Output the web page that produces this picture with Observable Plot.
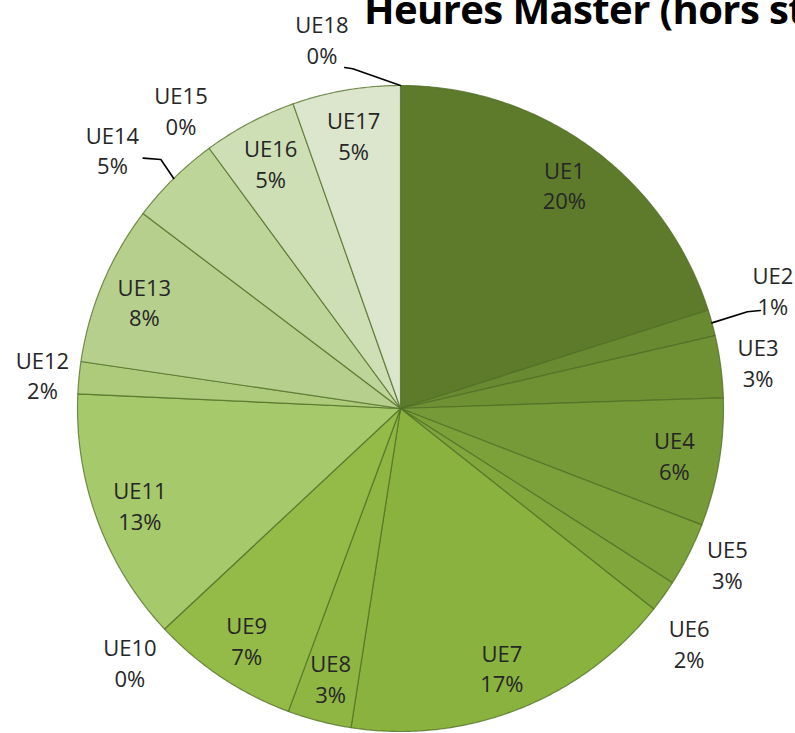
<!DOCTYPE html>
<html><head><meta charset="utf-8">
<script src="https://cdn.jsdelivr.net/npm/d3@7"></script>
<script src="https://cdn.jsdelivr.net/npm/@observablehq/plot@0.6"></script>
<style>
html,body{margin:0;padding:0;background:#fff;overflow:hidden;width:795px;height:733px}
#wrap{position:relative;width:795px;height:733px}
#title{position:absolute;left:364px;top:-19px;font:bold 40px 'Open Sans';white-space:nowrap;color:#000;letter-spacing:-0.6px;z-index:2}
#chart{position:absolute;left:0;top:0}
</style></head><body><div id="wrap"><div id="chart"></div><div id="title"></div></div>
<script>
// ---- data ----
const titleText = "Heures Master (hors stage)";
const categories = ["UE1","UE2","UE3","UE4","UE5","UE6","UE7","UE8","UE9","UE10","UE11","UE12","UE13","UE14","UE15","UE16","UE17","UE18"];
const shares = [20.1,1.3,3.1,6.4,3.2,1.6,16.8,3.2,7.4,0,12.7,1.6,8.0,4.6,0,4.7,5.4,0];
const sliceColors = ["#5d7b2b","#6a8a31","#6f9134","#769a38","#7ca13a","#80a63c","#8ab23f","#8fb643","#94ba48","#9abf52","#a6c96c","#adcb7a","#b6cf8c","#bdd598","#c4d9a5","#cedfb6","#dce6cd","#e6ecdd"];

// ---- layout ----
const outsideLabels = ["UE2","UE3","UE5","UE6","UE10","UE12","UE14","UE15","UE18"];
const labelNudge = {
  UE5: {da:-1.5, r:1.12},
  UE6: {da:3.5, r:1.15}
};
const leaderLayout = {
  UE2:  {da:-2.3, r:1.21, bendDa:-0.2, bendR:1.115, run:0.04},
  UE14: {da:-3.4, r:1.2,  bendDa:0.7,  bendR:1.07,  run:-0.055},
  UE18: {da:-12,  r:1.17, bendDa:-8,   bendR:1.062, run:-0.025}
};
const deg = Math.PI/180;
const P = (a, r) => [r*Math.sin(a), r*Math.cos(a)];

document.getElementById("title").textContent = titleText;

const arcs = d3.pie().sort(null).value(d => d)(shares);
const total = d3.sum(shares);

const slicePts = [];
arcs.forEach((a, i) => {
  const name = categories[i];
  const span = a.endAngle - a.startAngle;
  if (span <= 0) return;
  const n = Math.max(2, Math.ceil(span / (Math.PI/360)));
  slicePts.push({name, x:0, y:0});
  for (let k = 0; k <= n; k++) {
    const [x, y] = P(a.startAngle + span*k/n, 1);
    slicePts.push({name, x, y});
  }
  slicePts.push({name, x:0, y:0});
});

const labels = [];
const leaderPts = [];
arcs.forEach((a, i) => {
  const name = categories[i];
  const mid = (a.startAngle + a.endAngle)/2;
  const text = name + "\n" + Math.round(a.data/total*100) + "%";
  let pos;
  if (leaderLayout[name]) {
    const L = leaderLayout[name];
    pos = P(mid + L.da*deg, L.r);
    const A = P(mid, 1), B = P(mid + L.bendDa*deg, L.bendR);
    leaderPts.push({name, x:A[0], y:A[1]}, {name, x:B[0], y:B[1]}, {name, x:B[0]+L.run, y:B[1]+0.004});
  } else if (labelNudge[name]) {
    pos = P(mid + labelNudge[name].da*deg, labelNudge[name].r);
  } else if (outsideLabels.includes(name)) {
    const ext = Math.abs(Math.sin(mid))*0.08 + Math.abs(Math.cos(mid))*0.093;
    pos = P(mid, 1 + 0.025 + ext);
  } else {
    pos = P(mid, 0.86);
  }
  labels.push({text, x:pos[0], y:pos[1]});
});

const chart = Plot.plot({
  width: 795, height: 733,
  marginLeft: 77, marginRight: 72, marginTop: 85, marginBottom: 2,
  x: {domain:[-1,1], axis:null},
  y: {domain:[-1,1], axis:null},
  color: {domain: categories, range: sliceColors},
  style: {background:"transparent", overflow:"visible"},
  marks: [
    Plot.line(slicePts, {x:"x", y:"y", z:"name", fill:"name", stroke:"#4f6c24", strokeOpacity:0.75, strokeWidth:1.2, strokeLinejoin:"round", curve:"linear"}),
    Plot.line(leaderPts, {x:"x", y:"y", z:"name", stroke:"#000", strokeWidth:1.6, curve:"linear"}),
    Plot.text(labels, {x:"x", y:"y", text:"text", fontSize:22, fontFamily:"Open Sans", fill:"#262626", lineHeight:1.4, textAnchor:"middle"})
  ]
});
document.getElementById("chart").appendChild(chart);
</script>
</body></html>
